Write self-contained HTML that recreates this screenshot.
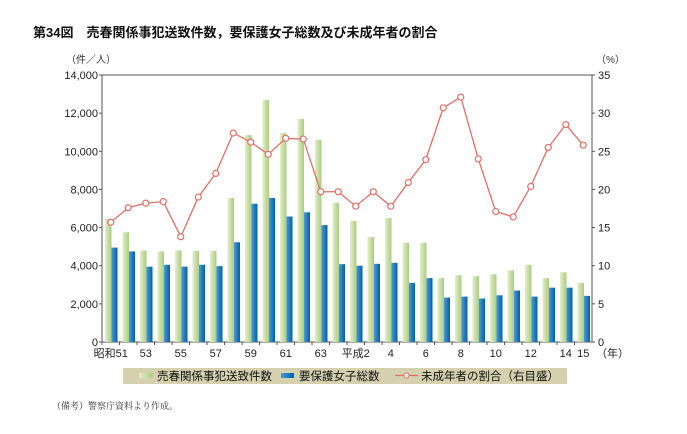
<!DOCTYPE html>
<html><head><meta charset="utf-8"><style>
body{margin:0;background:#fff;width:687px;height:429px;overflow:hidden;font-family:"Liberation Sans","Noto Sans CJK JP",sans-serif}
</style></head><body>
<svg id="c" width="687" height="429" xmlns="http://www.w3.org/2000/svg" font-family="Liberation Sans, Noto Sans CJK JP, sans-serif">
<defs>
<linearGradient id="gg" x1="0" x2="1"><stop offset="0" stop-color="#e4efc9"/><stop offset="1" stop-color="#a9cc82"/></linearGradient>
<linearGradient id="bg" x1="0" x2="1"><stop offset="0" stop-color="#4a9ad6"/><stop offset="1" stop-color="#0060a8"/></linearGradient>
</defs>
<text x="33" y="37" font-size="13" font-weight="bold" fill="#111">第34図　売春関係事犯送致件数，要保護女子総数及び未成年者の割合</text>
<text x="66" y="63" font-size="10" fill="#333">（件／人）</text>
<text x="596" y="63" font-size="10" fill="#333">（%）</text>
<g id="plot"></g>
<rect x="123" y="368" width="444" height="16" fill="#d5d0ae"/>
<rect x="139" y="373" width="14" height="5" fill="url(#gg)"/>
<text x="157" y="380" font-size="11.5" fill="#111">売春関係事犯送致件数</text>
<rect x="281" y="373" width="13" height="5" fill="url(#bg)"/>
<text x="299" y="380" font-size="11.5" fill="#111">要保護女子総数</text>
<line x1="395" y1="375.5" x2="418" y2="375.5" stroke="#e07068" stroke-width="1.2"/>
<circle cx="406.5" cy="375.5" r="2.5" fill="#fff" stroke="#e07068"/>
<text x="421" y="380" font-size="11.5" fill="#111">未成年者の割合（右目盛）</text>
<text x="52" y="409" font-size="9" fill="#333" font-family="Liberation Serif, Noto Serif CJK SC, serif">（備考）警察庁資料より作成。</text>
</svg>
<script>
const categories=["昭和51","52","53","54","55","56","57","58","59","60","61","62","63","平成1","2","3","4","5","6","7","8","9","10","11","12","13","14","15"];
const xLabels=["昭和51","","53","","55","","57","","59","","61","","63","","平成2","","4","","6","","8","","10","","12","","14","15"];
const cases=[6450,5750,4800,4750,4800,4780,4780,7550,10850,12700,10950,11700,10600,7300,6350,5500,6500,5200,5200,3350,3500,3450,3550,3750,4050,3350,3650,3100];
const women=[4950,4750,3950,4050,3950,4050,3980,5230,7250,7550,6580,6800,6130,4080,4000,4100,4150,3100,3350,2330,2380,2280,2450,2700,2380,2850,2850,2420];
const minorPct=[15.7,17.6,18.2,18.4,13.8,19.0,22.1,27.4,26.2,24.6,26.7,26.6,19.7,19.7,17.8,19.7,17.8,20.9,23.9,30.7,32.1,24.0,17.1,16.4,20.4,25.5,28.5,25.8];
const leftTicks=[0,2000,4000,6000,8000,10000,12000,14000];
const rightTicks=[0,5,10,15,20,25,30,35];
const L=102,R=592,T=75,B=342,NS="http://www.w3.org/2000/svg";
const band=(R-L)/categories.length;
const yL=v=>B-(v/14000)*(B-T);
const yR=v=>B-(v/35)*(B-T);
const xC=i=>L+band*(i+0.5);
const g=document.getElementById('plot');
function mk(t,a){const e=document.createElementNS(NS,t);for(const k in a)e.setAttribute(k,a[k]);g.appendChild(e);return e;}
let e;
e=mk('rect',{x:L,y:T,width:R-L,height:B-T,fill:'none',stroke:'#555','stroke-width':1});


leftTicks.forEach(v=>{
 e=mk('text',{x:L-4,y:yL(v)+4,'font-size':11,'text-anchor':'end',fill:'#222'});e.textContent=v.toLocaleString('en-US');
 
 
 e=mk('line',{x1:L-3,x2:L,y1:yL(v),y2:yL(v),stroke:'#555'});
 
 
});
rightTicks.forEach(v=>{
 e=mk('text',{x:R+6,y:yR(v)+4,'font-size':11,fill:'#222'});e.textContent=v;
 
 
 e=mk('line',{x1:R,x2:R+3,y1:yR(v),y2:yR(v),stroke:'#555'});
 
 
});
categories.forEach((c,i)=>{
 const x0=L+band*i;
 e=mk('rect',{x:x0+3,y:yL(cases[i]),width:6.5,height:B-yL(cases[i]),fill:'url(#gg)'});
 
 
 e=mk('rect',{x:x0+9.5,y:yL(women[i]),width:6,height:B-yL(women[i]),fill:'url(#bg)'});
 
 
 e=mk('line',{x1:x0,x2:x0,y1:B,y2:B+3,stroke:'#555'});
 
 
 if(xLabels[i]){e=mk('text',{x:xC(i),y:B+15,'font-size':11,'text-anchor':'middle',fill:'#222'});e.textContent=xLabels[i];
 
 }
});
e=mk('text',{x:R+4,y:B+15,'font-size':11,fill:'#222'});e.textContent='（年）';


e=mk('polyline',{points:minorPct.map((v,i)=>xC(i)+','+yR(v)).join(' '),fill:'none',stroke:'#e07068','stroke-width':1.3});


minorPct.forEach((v,i)=>{
 e=mk('circle',{cx:xC(i),cy:yR(v),r:3,fill:'#fff',stroke:'#e07068','stroke-width':1.2});
 
 
});
</script>
</body></html>
